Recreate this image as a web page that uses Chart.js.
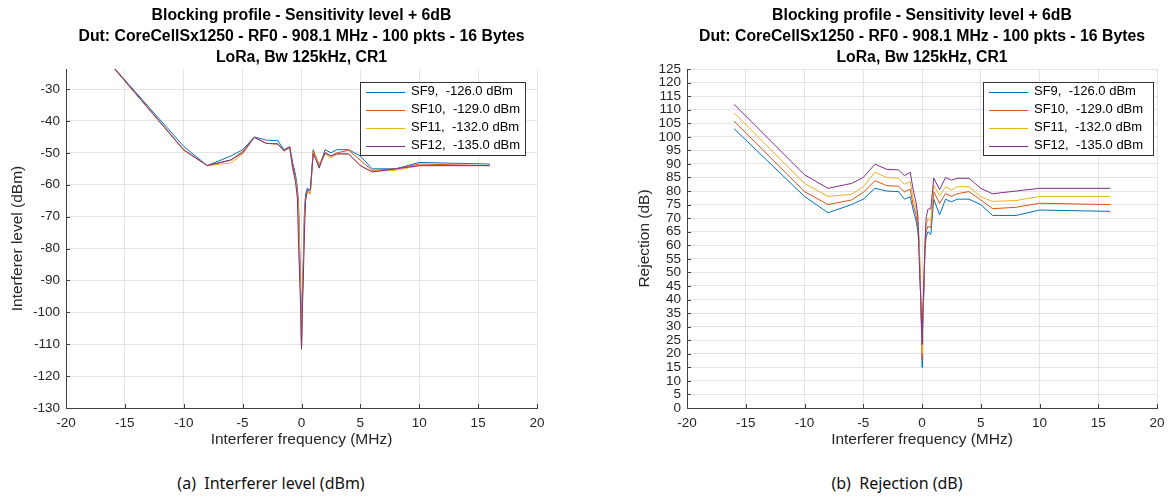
<!DOCTYPE html>
<html>
<head>
<meta charset="utf-8">
<script src="https://cdn.jsdelivr.net/npm/chart.js@4.4.1/dist/chart.umd.min.js"></script>
<style>
  html, body { margin: 0; padding: 0; background: #fff; width: 1173px; height: 497px; overflow: hidden; }
  .panel { position: absolute; top: 0; height: 460px; }
  #p1 { left: 0; width: 560px; }
  #p2 { left: 580px; width: 593px; }
  .cap { position: absolute; top: 472px; font-family: "Noto Sans", sans-serif; font-size: 16px; color: #111;
         white-space: pre; transform: translateX(-50%); }
</style>
</head>
<body>
<div class="panel" id="p1"><canvas id="c1"></canvas></div>
<div class="panel" id="p2"><canvas id="c2"></canvas></div>
<div class="cap" style="left:271px">(a)  Interferer level (dBm)</div>
<div class="cap" style="left:897px">(b)  Rejection (dB)</div>
<script>
// Interferer offset from the wanted channel (MHz)
const freqMHz = [-16, -10, -8, -6, -5, -4, -3, -2, -1.5, -1, -0.75, -0.5, -0.35, -0.25, -0.15, -0.05, 0,
                 0.05, 0.15, 0.25, 0.35, 0.5, 0.75, 1, 1.5, 2, 2.5, 3, 4, 5, 6, 8, 10, 16];

const seriesNames = ['SF9', 'SF10', 'SF11', 'SF12'];
const sensitivity = [-126.0, -129.0, -132.0, -135.0];
const seriesColors = ['#0072BD', '#D95319', '#EDB120', '#7E2F8E'];

// Interferer level at the blocking point (dBm)
const levelSF9  = [-23, -48, -54, -51, -49, -45, -46, -46.2, -49, -48.1, -53, -57, -61, -66, -80, -96, -111,
                   -98, -84, -68, -63, -61, -62, -49, -54.8, -49, -50, -49, -49, -51, -55, -55, -53, -53.5];
const levelSF10 = [-23.2, -49.2, -54, -52.3, -49.5, -45.2, -47, -47.2, -49.3, -48.3, -54, -58, -62, -67, -82, -98, -111.3,
                   -100, -86, -70, -64, -62, -62.5, -49.2, -53.6, -49.9, -51, -50, -49.2, -52.3, -55.5, -55, -53.5, -54];
const levelSF11 = [-23.1, -49.2, -54, -53.2, -50.4, -45.1, -47, -47.3, -49.5, -48.5, -55, -58.5, -63, -69, -84, -99, -111.8,
                   -101, -87, -71, -65, -62, -63, -49.8, -53.8, -50.4, -51.6, -50.4, -50.4, -54.1, -55.8, -55.5, -54, -54];
const levelSF12 = [-23, -49, -54, -52.2, -50, -45.1, -47, -47.2, -49.3, -48.1, -54.6, -59.3, -64.3, -79, -90, -101.9, -111.5,
                   -102.4, -90, -75, -64.8, -61.7, -61.5, -50.2, -54.5, -50, -51, -50.3, -50.3, -54, -56, -55, -54, -54];

// Rejection relative to sensitivity (dB)
const rejSF9  = [103, 78, 72, 75, 77, 81, 80, 79.8, 77, 77.9, 73, 69, 65, 60, 46, 30, 15,
                 28, 42, 58, 63, 65, 64, 77, 71.2, 77, 76, 77, 77, 75, 71, 71, 73, 72.5];
const rejSF10 = [105.8, 79.8, 75, 76.7, 79.5, 83.8, 82, 81.8, 79.7, 80.7, 75, 71, 67, 62, 47, 31, 17.7,
                 29, 43, 59, 65, 67, 66.5, 79.8, 75.4, 79.1, 78, 79, 79.8, 76.7, 73.5, 74, 75.5, 75];
const rejSF11 = [108.9, 82.8, 78, 78.8, 81.6, 86.9, 85, 84.7, 82.5, 83.5, 77, 73.5, 69, 63, 48, 33, 20.2,
                 31, 45, 61, 67, 70, 69, 82.2, 78.2, 81.6, 80.4, 81.6, 81.6, 77.9, 76.2, 76.5, 78, 78];
const rejSF12 = [112, 86, 81, 82.8, 85, 89.9, 88, 87.8, 85.7, 86.9, 80.4, 75.7, 70.7, 56, 45, 33.1, 23.5,
                 32.6, 45, 60, 70.2, 73.3, 73.5, 84.8, 80.5, 85, 84, 84.7, 84.7, 81, 79, 80, 81, 81];

// Tick values
const freqTicks  = [-20, -15, -10, -5, 0, 5, 10, 15, 20];
const levelTicks = [-130, -120, -110, -100, -90, -80, -70, -60, -50, -40, -30];
const rejTicks   = [0, 5, 10, 15, 20, 25, 30, 35, 40, 45, 50, 55, 60, 65, 70, 75, 80, 85, 90, 95, 100, 105, 110, 115, 120, 125];

const titleLines = [
  'Blocking profile - Sensitivity level + 6dB',
  'Dut: CoreCellSx1250 - RF0 - 908.1 MHz - 100 pkts - 16 Bytes',
  'LoRa, Bw 125kHz, CR1'
];

const AXIS_COLOR = '#404040';
const TEXT_COLOR = '#262626';
const GRID_COLOR = '#e4e4e4';
const FONT = '"Liberation Sans", Arial, sans-serif';
const LABEL_SIZE = 15.5;
const TICK_SIZE = 13.5;

function makeDatasets(valueSets) {
  return valueSets.map((vals, i) => ({
    label: `${seriesNames[i]},  ${sensitivity[i].toFixed(1)} dBm`,
    data: freqMHz.map((f, k) => ({ x: f, y: vals[k] })),
    borderColor: seriesColors[i],
    backgroundColor: seriesColors[i],
    borderWidth: 1,
    pointRadius: 0,
    tension: 0,
    fill: false,
    order: valueSets.length - 1 - i   // later series on top
  }));
}

// Three-line bold heading centred over the plot area
const headingPlugin = {
  id: 'heading',
  afterDraw(chart) {
    const { ctx, chartArea } = chart;
    const cx = (chartArea.left + chartArea.right) / 2;
    ctx.save();
    ctx.fillStyle = '#000';
    ctx.font = 'bold 15.8px ' + FONT;
    ctx.textAlign = 'center';
    ctx.textBaseline = 'middle';
    [16, 37, 58].forEach((y, i) => ctx.fillText(titleLines[i], cx, y));
    ctx.restore();
  }
};

// Short inward tick marks along the left and bottom axes
const innerTicksPlugin = {
  id: 'innerTicks',
  afterDatasetsDraw(chart) {
    const { ctx, chartArea, scales } = chart;
    ctx.save();
    ctx.strokeStyle = AXIS_COLOR;
    ctx.lineWidth = 1;
    ctx.beginPath();
    scales.x.ticks.forEach(t => {
      const px = Math.round(scales.x.getPixelForValue(t.value)) + 0.5;
      ctx.moveTo(px, chartArea.bottom);
      ctx.lineTo(px, chartArea.bottom - 4);
    });
    scales.y.ticks.forEach(t => {
      const py = Math.round(scales.y.getPixelForValue(t.value)) + 0.5;
      ctx.moveTo(chartArea.left, py);
      ctx.lineTo(chartArea.left + 4, py);
    });
    ctx.stroke();
    ctx.restore();
  }
};

// Boxed legend in the top-right corner of the plot
const boxLegendPlugin = {
  id: 'boxLegend',
  afterDatasetsDraw(chart, args, opts) {
    const { ctx, chartArea } = chart;
    const x0 = chartArea.right - opts.rightGap - opts.width;
    const y0 = chartArea.top + 13;
    const h = 73;
    ctx.save();
    ctx.fillStyle = '#fff';
    ctx.fillRect(x0, y0, opts.width, h);
    ctx.strokeStyle = '#333';
    ctx.lineWidth = 1;
    ctx.strokeRect(Math.round(x0) + 0.5, Math.round(y0) + 0.5, opts.width, h);
    ctx.font = '13px ' + FONT;
    ctx.textBaseline = 'middle';
    ctx.textAlign = 'left';
    chart.data.datasets.forEach((ds, i) => {
      const y = y0 + 9.5 + i * 18;
      ctx.strokeStyle = ds.borderColor;
      ctx.beginPath();
      ctx.moveTo(x0 + 6, Math.round(y) + 0.5);
      ctx.lineTo(x0 + 45, Math.round(y) + 0.5);
      ctx.stroke();
      ctx.fillStyle = '#000';
      ctx.fillText(ds.label, x0 + 51, y);
    });
    ctx.restore();
  }
};

function makeChart(canvasId, valueSets, yMin, yMax, yTicks, yTitle, yWidth, yTitlePad, padRight, legendWidth, legendGap) {
  return new Chart(document.getElementById(canvasId), {
    type: 'line',
    data: { datasets: makeDatasets(valueSets) },
    plugins: [headingPlugin, innerTicksPlugin, boxLegendPlugin],
    options: {
      responsive: true,
      maintainAspectRatio: false,
      animation: false,
      events: [],
      layout: { padding: { top: 69, right: padRight, bottom: 0, left: 0 } },
      plugins: {
        legend: { display: false },
        title: { display: false },
        tooltip: { enabled: false },
        boxLegend: { width: legendWidth, rightGap: legendGap }
      },
      scales: {
        x: {
          type: 'linear',
          min: -20, max: 20,
          afterBuildTicks: s => { s.ticks = freqTicks.map(v => ({ value: v })); },
          afterFit: s => { s.height = 52; },
          grid: { color: GRID_COLOR, drawTicks: false },
          border: { display: true, color: AXIS_COLOR, width: 1 },
          ticks: { color: TEXT_COLOR, font: { family: FONT, size: TICK_SIZE }, padding: 7, maxRotation: 0, autoSkip: false },
          title: { display: true, text: 'Interferer frequency (MHz)', color: TEXT_COLOR,
                   font: { family: FONT, size: LABEL_SIZE }, padding: { top: 0, bottom: 10.5 } }
        },
        y: {
          type: 'linear',
          min: yMin, max: yMax,
          afterBuildTicks: s => { s.ticks = yTicks.map(v => ({ value: v })); },
          afterFit: s => { s.width = yWidth; },
          grid: { color: GRID_COLOR, drawTicks: false },
          border: { display: true, color: AXIS_COLOR, width: 1 },
          ticks: { color: TEXT_COLOR, font: { family: FONT, size: TICK_SIZE }, padding: 6, autoSkip: false },
          title: { display: true, text: yTitle, color: TEXT_COLOR,
                   font: { family: FONT, size: LABEL_SIZE }, padding: { top: yTitlePad, bottom: 0 } }
        }
      }
    }
  });
}

makeChart('c1', [levelSF9, levelSF10, levelSF11, levelSF12], -130, -23.7, levelTicks,
          'Interferer level (dBm)', 66, 8.5, 23, 165, 12);
makeChart('c2', [rejSF9, rejSF10, rejSF11, rejSF12], 0, 125, rejTicks,
          'Rejection (dB)', 107, 55.5, 16, 170, 4);
</script>
</body>
</html>
